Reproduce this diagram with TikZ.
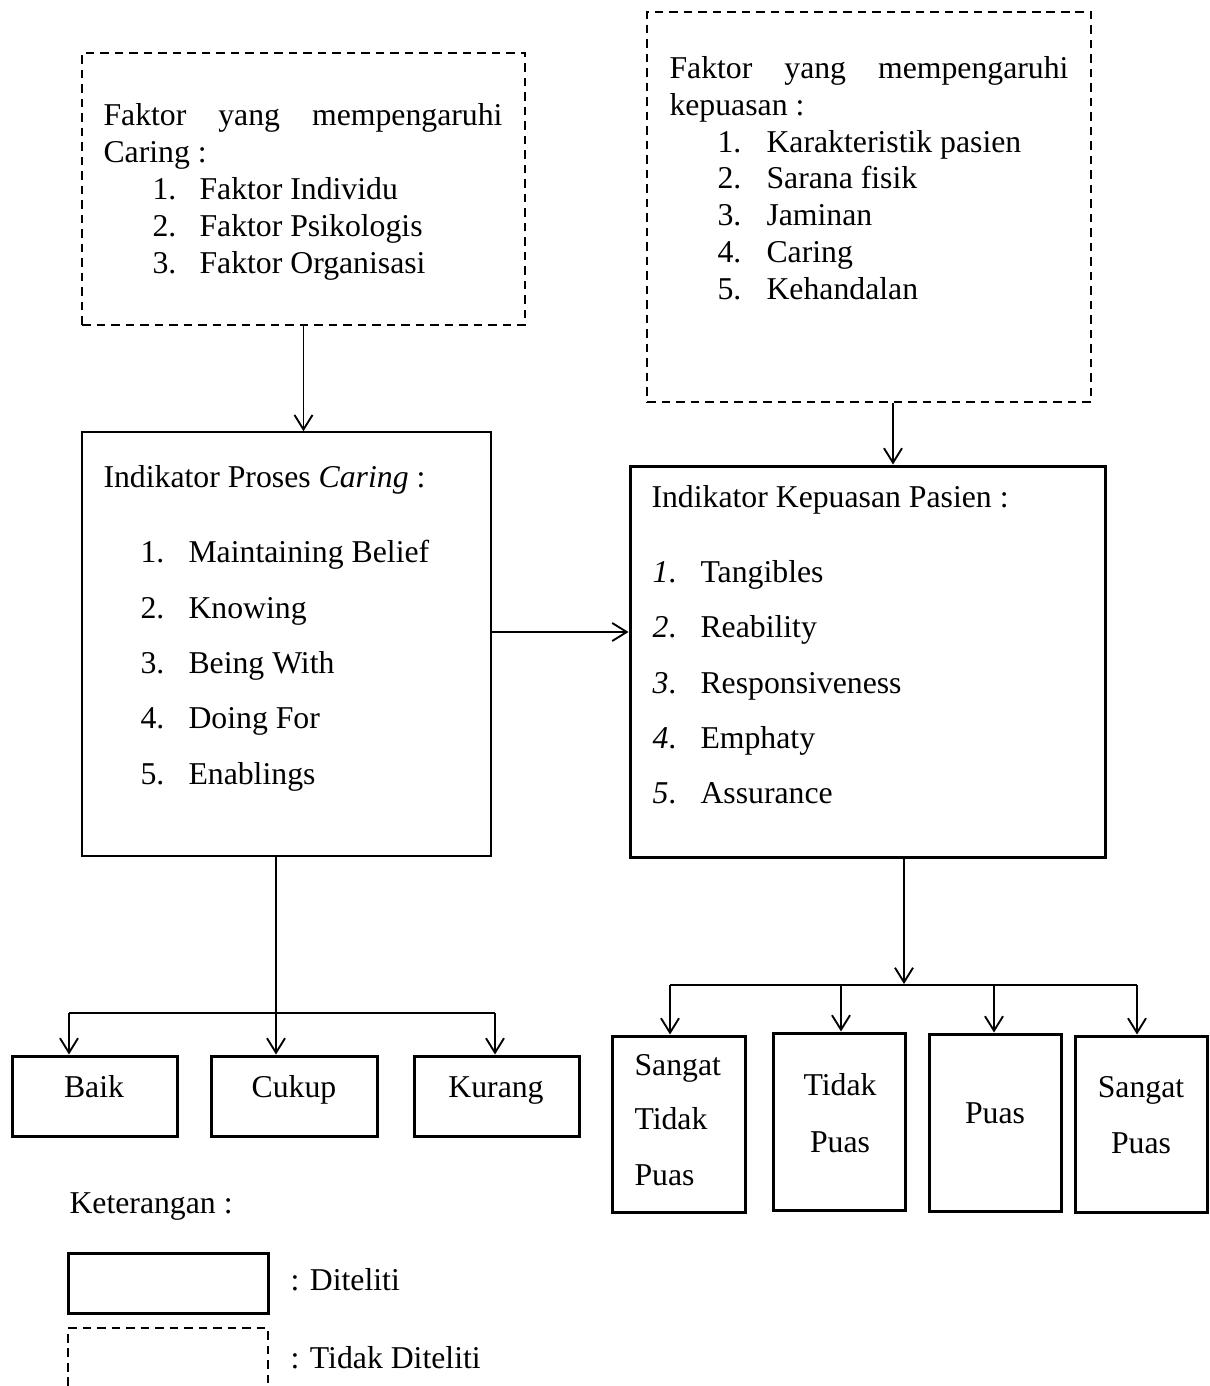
\documentclass[tikz,border=0pt]{standalone}
\usepackage{fontspec}
\setmainfont{Liberation Serif}
\usetikzlibrary{arrows.meta,fit}
\begin{document}
\begin{tikzpicture}[x=0.4pt,y=-0.4pt,
  every node/.style={font=\fontsize{12.7}{15}\selectfont},
  dbox/.style={draw, line width=1.1pt, dash pattern=on 3.5pt off 2.3pt, inner sep=0pt},
  dline/.style={line width=1.1pt, dash pattern=on 3.5pt off 2.3pt},
  thinbox/.style={draw, line width=0.6pt, inner sep=0pt},
  boldbox/.style={draw, line width=1.2pt, inner sep=0pt},
  txt/.style={anchor=base west, inner sep=0pt},
  ctxt/.style={anchor=base, inner sep=0pt},
  arr/.style={line width=0.75pt, -{Straight Barb[length=5.8pt,width=7.2pt]}},
  conn/.style={line width=0.75pt}]
\useasboundingbox (0,0) rectangle (1209,1386);

% boxes
\node[dbox, fit={(82,53)(525,325)}] (A) {};
\node[dbox, fit={(647,12)(1091,402)}] (B) {};
\node[thinbox, fit={(82,432)(491,856)}] (C) {};
\node[boldbox, fit={(630,466)(1105,857)}] (D) {};
\node[boldbox, fit={(12,1056)(177,1136)}] (baik) {};
\node[boldbox, fit={(211,1056)(377,1136)}] (cukup) {};
\node[boldbox, fit={(414,1056)(579,1136)}] (kurang) {};
\node[boldbox, fit={(612,1036)(745,1212)}] (stp) {};
\node[boldbox, fit={(773,1033)(905,1210)}] (tp) {};
\node[boldbox, fit={(929,1034)(1061,1211)}] (p) {};
\node[boldbox, fit={(1075,1036)(1207,1212)}] (sp) {};
\node[boldbox, fit={(68,1253)(268,1313)}] (lg1) {};
\draw[dline] (68,1386) -- (68,1328) -- (268,1328) -- (268,1386);

% text box A
\node[txt] (a1) at (103,125) {\hbox to 159.6pt{Faktor\hfill yang\hfill mempengaruhi}};
\node[txt] (a2) at (103,162) {Caring :};
\foreach \n/\t/\y in {1/Faktor Individu/199, 2/Faktor Psikologis/236, 3/Faktor Organisasi/273}{
  \node[txt] (an\n) at (152,\y) {\n.};
  \node[txt] (at\n) at (199,\y) {\t};
}
% text box B
\node[txt] (b1) at (669,78) {\hbox to 159.6pt{Faktor\hfill yang\hfill mempengaruhi}};
\node[txt] (b2) at (669,115) {kepuasan :};
\foreach \n/\t/\y in {1/Karakteristik pasien/152, 2/Sarana fisik/188, 3/Jaminan/225, 4/Caring/262, 5/Kehandalan/299}{
  \node[txt] (bn\n) at (717,\y) {\n.};
  \node[txt] (bt\n) at (766,\y) {\t};
}
% text box C
\node[txt] (c1) at (103,487) {Indikator Proses \textit{Caring} :};
\foreach \n/\t/\y in {1/Maintaining Belief/562, 2/Knowing/618, 3/Being With/673, 4/Doing For/728, 5/Enablings/784}{
  \node[txt] (cn\n) at (140,\y) {\n.};
  \node[txt] (ct\n) at (188,\y) {\t};
}
% text box D
\node[txt] (d1) at (651,507) {Indikator Kepuasan Pasien :};
\foreach \n/\t/\y in {1/Tangibles/582, 2/Reability/637, 3/Responsiveness/693, 4/Emphaty/748, 5/Assurance/803}{
  \node[txt] (dn\n) at (652,\y) {\textit{\n}.};
  \node[txt] (dt\n) at (700,\y) {\t};
}
% result texts
\node[ctxt] (tbaik) at (94,1097) {Baik};
\node[ctxt] (tcukup) at (294,1097) {Cukup};
\node[ctxt] (tkurang) at (496,1097) {Kurang};
\node[txt] (tstp1) at (634,1075) {Sangat};
\node[txt] (tstp2) at (634,1129) {Tidak};
\node[txt] (tstp3) at (634,1185) {Puas};
\node[ctxt] (ttp1) at (840,1095) {Tidak};
\node[ctxt] (ttp2) at (840,1152) {Puas};
\node[ctxt] (tp1) at (995,1123) {Puas};
\node[ctxt] (tsp1) at (1141,1097) {Sangat};
\node[ctxt] (tsp2) at (1141,1153) {Puas};
% legend
\node[txt] (ket) at (69,1213) {Keterangan :};
\node[txt] (ket1) at (290,1290) {: Diteliti};
\node[txt] (ket2) at (290,1368) {: Tidak Diteliti};

% connectors
\draw[arr] (A.south) -- (A.south |- C.north);
\draw[arr] ([xshift=9.6pt]B.south) -- ([xshift=9.6pt]B.south |- D.north);
\draw[arr] ([yshift=4.8pt]C.east) -- ([yshift=4.8pt]C.east -| D.west);

\coordinate (cj) at (276,1013);
\coordinate (cl) at (69,1013);
\coordinate (cr) at (495,1013);
\draw[conn] (C.south -| cj) -- (cj);
\draw[conn] (cl) -- (cr);
\draw[arr] (cj) -- (cj |- cukup.north);
\draw[arr] (cl) -- (cl |- baik.north);
\draw[arr] (cr) -- (cr |- kurang.north);

\coordinate (dj) at (904,984);
\coordinate (dl) at (670,985);
\coordinate (dm1) at (841,985);
\coordinate (dm2) at (994,985);
\coordinate (dr) at (1137,985);
\draw[arr] (D.south -| dj) -- (dj);
\draw[conn] (dl) -- (dr);
\draw[arr] (dl) -- (dl |- stp.north);
\draw[arr] (dm1) -- (dm1 |- tp.north);
\draw[arr] (dm2) -- (dm2 |- p.north);
\draw[arr] (dr) -- (dr |- sp.north);
\end{tikzpicture}
\end{document}
